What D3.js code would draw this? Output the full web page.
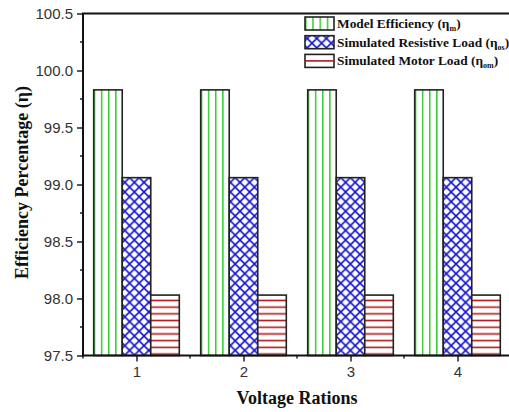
<!DOCTYPE html>
<html><head><meta charset="utf-8">
<script src="https://cdn.jsdelivr.net/npm/d3@7"></script>
<style>body{margin:0;background:#fff}svg{display:block}</style>
</head><body>
<script>
const categories = [1, 2, 3, 4];
const seriesNames = ["Model Efficiency", "Simulated Resistive Load", "Simulated Motor Load"];
const seriesSubs = ["m", "os", "om"];
const modelEff = [99.83, 99.83, 99.83, 99.83];
const resistiveEff = [99.06, 99.06, 99.06, 99.06];
const motorEff = [98.03, 98.03, 98.03, 98.03];
const yTicks = [97.5, 98.0, 98.5, 99.0, 99.5, 100.0, 100.5];
const xTitle = "Voltage Rations";
const yTitle = "Efficiency Percentage (η)";

const W = 509, H = 412;
const svg = d3.select("body").append("svg").attr("width", W).attr("height", H);
const defs = svg.append("defs");

const x = d3.scaleLinear().domain([0.5, 4.5]).range([83, 511]);
const y = d3.scaleLinear().domain([97.5, 100.5]).range([355.5, 13.5]);
const series = [modelEff, resistiveEff, motorEff];
const groupW = (x(2) - x(1)) * 0.8;
const barW = groupW / 3;
const fills = ["url(#pv)", "url(#px)", "url(#ph)"];

// patterns
const pv = defs.append("pattern").attr("id", "pv").attr("patternUnits", "objectBoundingBox")
  .attr("width", 0.25).attr("height", 1);
pv.append("rect").attr("width", 20).attr("height", 400).attr("fill", "#fff");
pv.append("line").attr("x1", 0).attr("x2", 0).attr("y1", 0).attr("y2", 400)
  .attr("stroke", "#33cc33").attr("stroke-width", 3);
const cs = 9.6;
const px = defs.append("pattern").attr("id", "px").attr("patternUnits", "userSpaceOnUse")
  .attr("width", cs).attr("height", cs);
px.append("rect").attr("width", cs).attr("height", cs).attr("fill", "#fff");
px.append("path").attr("d", `M0,0L${cs},${cs}M${cs},0L0,${cs}M-1,${cs-1}L1,${cs+1}M${cs-1},-1L${cs+1},1`)
  .attr("stroke", "#1414d0").attr("stroke-width", 1.6);
const hs = 6.7;
const ph = defs.append("pattern").attr("id", "ph").attr("patternUnits", "userSpaceOnUse")
  .attr("width", 20).attr("height", hs).attr("y", 2.3);
ph.append("rect").attr("width", 20).attr("height", hs).attr("fill", "#fff");
ph.append("line").attr("x1", 0).attr("x2", 20).attr("y1", hs/2).attr("y2", hs/2)
  .attr("stroke", "#b01818").attr("stroke-width", 1.6);
// legend patterns
const lpv = defs.append("pattern").attr("id", "lpv").attr("patternUnits", "objectBoundingBox")
  .attr("width", 0.25).attr("height", 1);
lpv.append("rect").attr("width", 20).attr("height", 40).attr("fill", "#fff");
lpv.append("line").attr("x1", 0).attr("x2", 0).attr("y1", 0).attr("y2", 40)
  .attr("stroke", "#33cc33").attr("stroke-width", 3);

// bars
series.forEach((vals, si) => {
  svg.append("g").selectAll("rect").data(categories).join("rect")
    .attr("x", (c) => x(c) - groupW / 2 + si * barW)
    .attr("y", (c, i) => y(vals[i]))
    .attr("width", barW)
    .attr("height", (c, i) => y(97.5) - y(vals[i]))
    .attr("fill", fills[si])
    .attr("stroke", "#222").attr("stroke-width", 1.6);
});

// axes
const axisG = svg.append("g");
const yAxis = d3.axisLeft(y).tickValues(yTicks).tickFormat(d3.format(".1f")).tickSize(6).tickPadding(4);
const gy = axisG.append("g").attr("transform", `translate(${x(0.5)},0)`).call(yAxis);
gy.select(".domain").remove();
gy.selectAll(".tick line").attr("stroke", "#222").attr("stroke-width", 1.5);
gy.selectAll("text").attr("font-family", "Liberation Sans, Arial, sans-serif").attr("font-size", 15).attr("fill", "#333");
const yMinor = d3.range(97.75, 100.5, 0.5);
axisG.append("g").selectAll("line").data(yMinor).join("line")
  .attr("x1", x(0.5) - 3).attr("x2", x(0.5)).attr("y1", d => y(d)).attr("y2", d => y(d))
  .attr("stroke", "#222").attr("stroke-width", 1.5);

const xAxis = d3.axisBottom(x).tickValues(categories).tickFormat(d3.format("d")).tickSize(6).tickPadding(5);
const gx = axisG.append("g").attr("transform", `translate(0,${y(97.5)})`).call(xAxis);
gx.select(".domain").remove();
gx.selectAll(".tick line").attr("stroke", "#222").attr("stroke-width", 1.5);
gx.selectAll("text").attr("font-family", "Liberation Sans, Arial, sans-serif").attr("font-size", 15).attr("fill", "#333");
const xMinor = [0.5, 1.5, 2.5, 3.5];
axisG.append("g").selectAll("line").data(xMinor).join("line")
  .attr("x1", d => x(d)).attr("x2", d => x(d)).attr("y1", y(97.5)).attr("y2", y(97.5) + 3)
  .attr("stroke", "#222").attr("stroke-width", 1.5);

axisG.append("line").attr("x1", x(0.5)).attr("x2", x(0.5)).attr("y1", y(100.5)).attr("y2", y(97.5))
  .attr("stroke", "#111").attr("stroke-width", 2);
axisG.append("line").attr("x1", x(0.5) - 1).attr("x2", W).attr("y1", y(97.5)).attr("y2", y(97.5))
  .attr("stroke", "#111").attr("stroke-width", 2);
axisG.append("line").attr("x1", x(0.5) - 1).attr("x2", W).attr("y1", y(100.5)).attr("y2", y(100.5))
  .attr("stroke", "#111").attr("stroke-width", 2);

// titles
svg.append("text").attr("x", (x(0.5) + W) / 2 + 1).attr("y", 404).attr("text-anchor", "middle")
  .attr("font-family", "Liberation Serif, Times New Roman, serif").attr("font-weight", "bold")
  .attr("font-size", 18).attr("fill", "#111").text(xTitle);
svg.append("text").attr("transform", `translate(28,${(y(100.5) + y(97.5)) / 2 - 2}) rotate(-90)`)
  .attr("text-anchor", "middle")
  .attr("font-family", "Liberation Serif, Times New Roman, serif").attr("font-weight", "bold")
  .attr("font-size", 18).attr("fill", "#111").text(yTitle);

// legend
const legFills = ["url(#lpv)", "url(#px)", "#fff"];
const leg = svg.append("g");
seriesNames.forEach((name, i) => {
  const ly = 17 + i * 18.7;
  leg.append("rect").attr("x", 305).attr("y", ly).attr("width", 29).attr("height", 13)
    .attr("fill", legFills[i]).attr("stroke", "#222").attr("stroke-width", 1.6);
  if (i === 2) {
    leg.append("line").attr("x1", 305).attr("x2", 334).attr("y1", ly + 6.5).attr("y2", ly + 6.5)
      .attr("stroke", "#b01818").attr("stroke-width", 1.6);
  }
  const t = leg.append("text").attr("x", 337).attr("y", ly + 11)
    .attr("font-family", "Liberation Serif, Times New Roman, serif").attr("font-weight", "bold")
    .attr("font-size", 13.4).attr("fill", "#111");
  t.append("tspan").text(name + " (η");
  t.append("tspan").attr("font-size", 8).attr("dy", 3).text(seriesSubs[i]);
  t.append("tspan").attr("dy", -3).text(")");
});
</script>
</body></html>
